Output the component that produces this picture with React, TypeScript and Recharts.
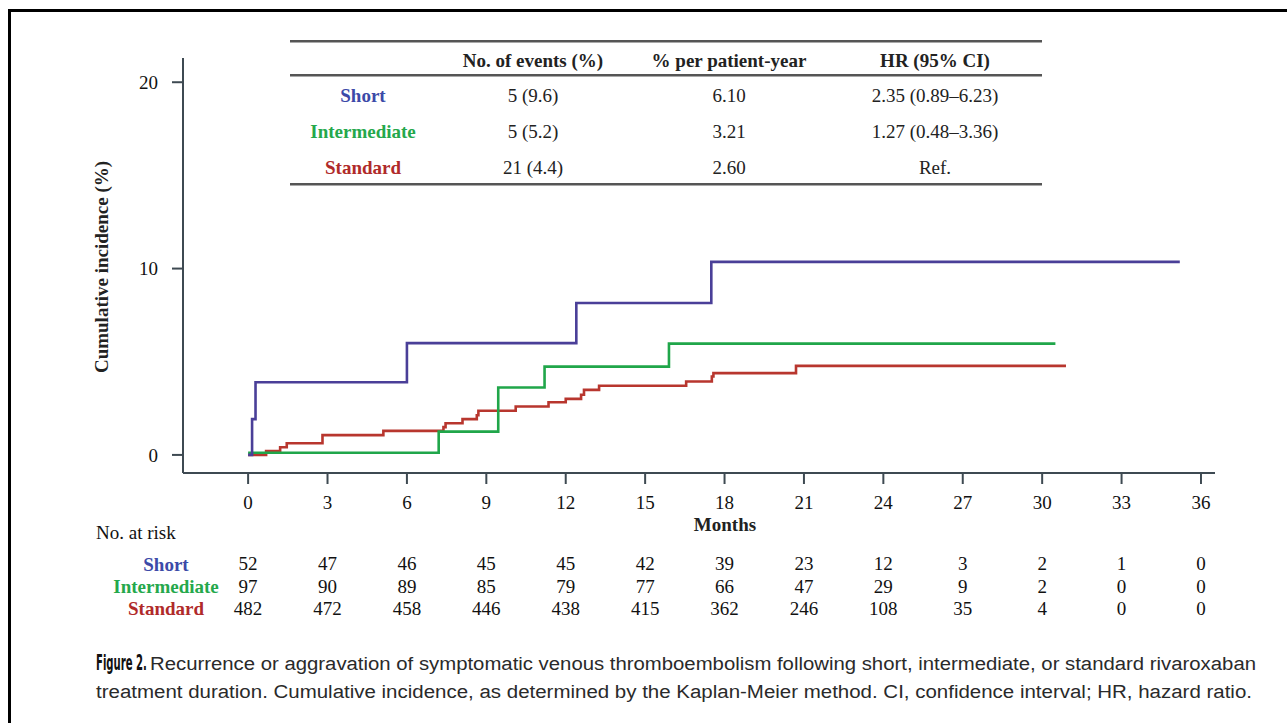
import React from 'react';
import { LineChart, Line, XAxis, YAxis } from 'recharts';

// ---------- data ----------
const monthTicks = [0, 3, 6, 9, 12, 15, 18, 21, 24, 27, 30, 33, 36];
const incidenceTicks = [0, 10, 20];

const shortTimes = [0, 0.15, 0.28, 6.0, 12.4, 17.5, 35.2];
const shortValues = [0, 1.92, 3.9, 6.0, 8.15, 10.36, 10.36];

const intermediateTimes = [0, 7.2, 9.45, 11.2, 15.9, 30.5];
const intermediateValues = [0.12, 1.25, 3.62, 4.74, 5.97, 5.97];

const standardTimes = [0, 0.68, 1.21, 1.46, 2.81, 5.11, 7.38, 7.46, 8.1, 8.64, 8.7, 10.11, 11.35, 12.0, 12.58, 12.69, 13.26, 16.55, 17.52, 17.58, 20.7, 30.9];
const standardValues = [0, 0.21, 0.41, 0.63, 1.06, 1.29, 1.49, 1.7, 1.92, 2.13, 2.37, 2.6, 2.83, 3.01, 3.23, 3.49, 3.71, 3.94, 4.21, 4.39, 4.78, 4.78];

const riskShort = [52, 47, 46, 45, 45, 42, 39, 23, 12, 3, 2, 1, 0];
const riskIntermediate = [97, 90, 89, 85, 79, 77, 66, 47, 29, 9, 2, 0, 0];
const riskStandard = [482, 472, 458, 446, 438, 415, 362, 246, 108, 35, 4, 0, 0];

const groupNames = ['Short', 'Intermediate', 'Standard'];
const tableHeaders = ['No. of events (%)', '% per patient-year', 'HR (95% CI)'];
const eventsCol = ['5 (9.6)', '5 (5.2)', '21 (4.4)'];
const rateCol = ['6.10', '3.21', '2.60'];
const hrCol = ['2.35 (0.89–6.23)', '1.27 (0.48–3.36)', 'Ref.'];

const captionLabel = 'Figure 2.';
const captionLine1 = 'Recurrence or aggravation of symptomatic venous thromboembolism following short, intermediate, or standard rivaroxaban';
const captionLine2 = 'treatment duration. Cumulative incidence, as determined by the Kaplan-Meier method. CI, confidence interval; HR, hazard ratio.';

// ---------- styles ----------
const SERIF = '"Liberation Serif", "DejaVu Serif", serif';
const SANS = '"Liberation Sans", Arial, sans-serif';
const NARROW = '"Liberation Sans Narrow", "DejaVu Sans Condensed", "Liberation Sans", sans-serif';
const C_SHORT = '#4a3f98';
const C_INTER = '#20a64a';
const C_STD = '#b8362e';
const T_SHORT = '#3c4aa8';
const T_INTER = '#25a84c';
const T_STD = '#b02a2a';
const groupTextColors = [T_SHORT, T_INTER, T_STD];
const AXIS = '#3e4a52';
const FS = 19;

const toPoints = (ts: number[], vs: number[]) => ts.map((t, i) => ({ t, v: vs[i] }));
const shortData = toPoints(shortTimes, shortValues);
const interData = toPoints(intermediateTimes, intermediateValues);
const stdData = toPoints(standardTimes, standardValues);

const X_DOMAIN: [number, number] = [-2.46, 36.53];
const Y_DOMAIN: [number, number] = [-0.97, 21.3];

const riskRows = [
  { id: 'rs', values: riskShort, margin: 82 },
  { id: 'ri', values: riskIntermediate, margin: 106 },
  { id: 'rst', values: riskStandard, margin: 126 },
];

const colX = [533, 729, 935];
const rowY = [95, 131, 167];

export default function App() {
  return (
    <div style={{ position: 'absolute', left: 0, top: 0, width: 1287, height: 723, background: '#fff' }}>
      <LineChart
        width={1287}
        height={723}
        margin={{ top: 58, right: 72, bottom: 246, left: 182 }}
        style={{ position: 'absolute', left: 0, top: 0 }}
      >
        <XAxis
          xAxisId="main"
          type="number"
          dataKey="t"
          domain={X_DOMAIN}
          ticks={monthTicks}
          allowDataOverflow
          interval={0}
          height={1}
          tickSize={11}
          tickMargin={12}
          stroke={AXIS}
          strokeWidth={2}
          tick={{ fill: '#111', fontSize: FS, fontFamily: SERIF }}
          tickLine={{ stroke: AXIS, strokeWidth: 2 }}
        />
        {riskRows.map((r) => (
          <XAxis
            key={r.id}
            xAxisId={r.id}
            type="number"
            dataKey="t"
            domain={X_DOMAIN}
            ticks={monthTicks}
            allowDataOverflow
            interval={0}
            height={1}
            tickSize={0}
            tickMargin={r.margin}
            axisLine={false}
            tickLine={false}
            tickFormatter={(_v: number, i: number) => String(r.values[i])}
            tick={{ fill: '#111', fontSize: FS, fontFamily: SERIF }}
          />
        ))}
        <YAxis
          yAxisId="y"
          type="number"
          domain={Y_DOMAIN}
          ticks={incidenceTicks}
          allowDataOverflow
          interval={0}
          width={1}
          tickSize={11}
          tickMargin={14}
          stroke={AXIS}
          strokeWidth={2}
          tick={{ fill: '#111', fontSize: FS, fontFamily: SERIF }}
          tickLine={{ stroke: AXIS, strokeWidth: 2 }}
        />
        <Line xAxisId="main" yAxisId="y" data={stdData} dataKey="v" type="stepAfter" stroke={C_STD} strokeWidth={2.6} dot={false} isAnimationActive={false} />
        <Line xAxisId="main" yAxisId="y" data={interData} dataKey="v" type="stepAfter" stroke={C_INTER} strokeWidth={2.6} dot={false} isAnimationActive={false} />
        <Line xAxisId="main" yAxisId="y" data={shortData} dataKey="v" type="stepAfter" stroke={C_SHORT} strokeWidth={2.6} dot={false} isAnimationActive={false} />
      </LineChart>

      <svg width={1287} height={723} style={{ position: 'absolute', left: 0, top: 0, pointerEvents: 'none' }}>
        {/* frame */}
        <rect x={8} y={9} width={1279} height={3} fill="#000" />
        <rect x={8} y={9} width={3} height={714} fill="#000" />

        {/* inset table */}
        <rect x={290} y={40} width={752} height={2.5} fill="#555" />
        <rect x={290} y={74} width={752} height={2.5} fill="#555" />
        <rect x={290} y={183} width={752} height={2.5} fill="#555" />
        {tableHeaders.map((h, i) => (
          <text key={h} x={colX[i]} y={60} textAnchor="middle" dominantBaseline="central" fontFamily={SERIF} fontSize={FS} fontWeight="bold" fill="#222">{h}</text>
        ))}
        {groupNames.map((g, i) => (
          <g key={g}>
            <text x={363} y={rowY[i]} textAnchor="middle" dominantBaseline="central" fontFamily={SERIF} fontSize={FS} fontWeight="bold" fill={groupTextColors[i]}>{g}</text>
            <text x={colX[0]} y={rowY[i]} textAnchor="middle" dominantBaseline="central" fontFamily={SERIF} fontSize={FS} fill="#222">{eventsCol[i]}</text>
            <text x={colX[1]} y={rowY[i]} textAnchor="middle" dominantBaseline="central" fontFamily={SERIF} fontSize={FS} fill="#222">{rateCol[i]}</text>
            <text x={colX[2]} y={rowY[i]} textAnchor="middle" dominantBaseline="central" fontFamily={SERIF} fontSize={FS} fill="#222">{hrCol[i]}</text>
          </g>
        ))}

        {/* axis titles */}
        <text x={101} y={267} transform="rotate(-90 101 267)" textAnchor="middle" dominantBaseline="central" fontFamily={SERIF} fontSize={FS} fontWeight="bold" fill="#222">Cumulative incidence (%)</text>
        <text x={725} y={524} textAnchor="middle" dominantBaseline="central" fontFamily={SERIF} fontSize={FS} fontWeight="bold" fill="#222">Months</text>

        {/* risk table labels */}
        <text x={96} y={532} dominantBaseline="central" fontFamily={SERIF} fontSize={FS} fill="#111">No. at risk</text>
        {groupNames.map((g, i) => (
          <text key={'r' + g} x={166} y={564 + i * 22} textAnchor="middle" dominantBaseline="central" fontFamily={SERIF} fontSize={FS} fontWeight="bold" fill={groupTextColors[i]}>{g}</text>
        ))}

        {/* caption */}
        <text x={0} y={0} transform="translate(96 670) scale(0.51 1)" fontFamily={NARROW} fontSize={22} fontWeight="bold" fill="#111">{captionLabel}</text>
        <text x={150} y={670} fontFamily={SANS} fontSize={18} fill="#2a2a2a" textLength={1106} lengthAdjust="spacingAndGlyphs">{captionLine1}</text>
        <text x={96} y={698} fontFamily={SANS} fontSize={18} fill="#2a2a2a" textLength={1156} lengthAdjust="spacingAndGlyphs">{captionLine2}</text>
      </svg>
    </div>
  );
}
